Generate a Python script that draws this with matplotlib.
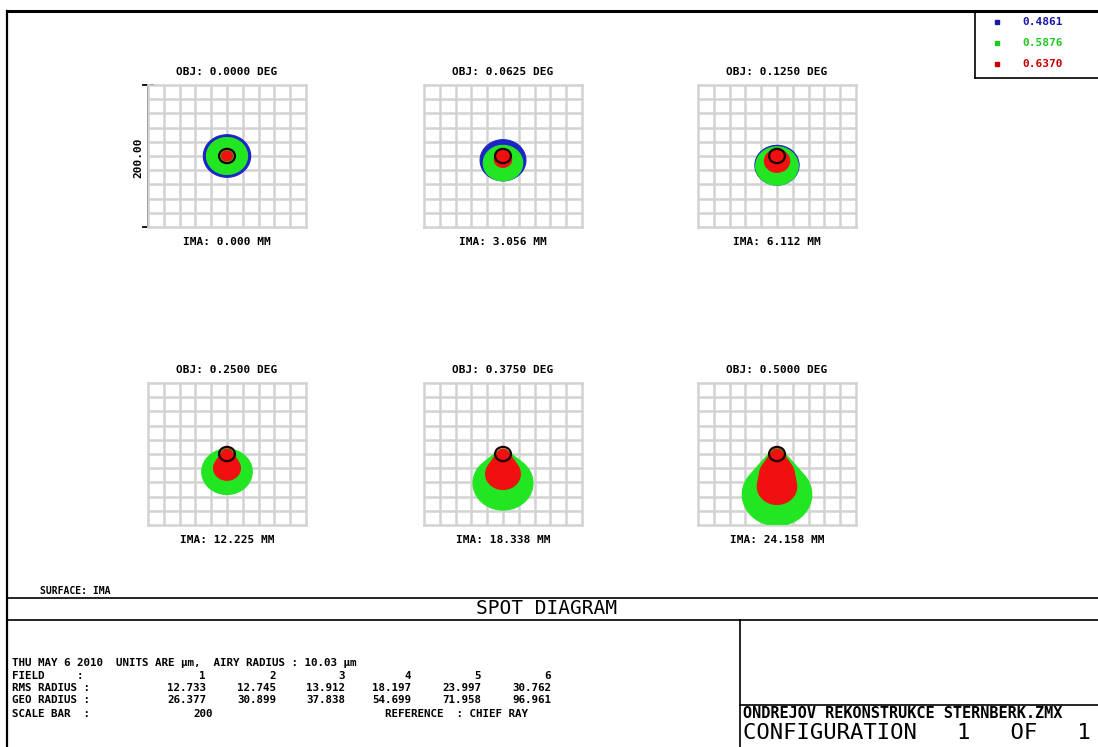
import numpy as np
import matplotlib
matplotlib.use("Agg")
import matplotlib.pyplot as plt
from matplotlib.patches import Polygon, Circle

# field data
obj_deg = ["0.0000", "0.0625", "0.1250", "0.2500", "0.3750", "0.5000"]
ima_mm = ["0.000", "3.056", "6.112", "12.225", "18.338", "24.158"]
field_no = ["1", "2", "3", "4", "5", "6"]
rms_radius = ["12.733", "12.745", "13.912", "18.197", "23.997", "30.762"]
geo_radius = ["26.377", "30.899", "37.838", "54.699", "71.958", "96.961"]

wavelengths = ["0.4861", "0.5876", "0.6370"]
wave_colors = ["#1c24c8", "#22e622", "#f01010"]
legend_colors = ["#1a1aa8", "#22c822", "#c80000"]

airy_radius = 10.03   # um
scale_bar = 200       # um

# spot outlines per wavelength and field: list of (y offset, radius) in um,
# the spot is the hull of these circles (chief ray at 0,0)
spots_blue = [
    [(0, 30)],
    [(-6, 29)],
    [(-13, 28)],
    [(-2, 6), (-22, 27)],
    [(-3, 6), (-36, 32)],
    [(-4, 7), (-52, 38)],
]
spots_green = [
    [(0, 26)],
    [(-10, 25)],
    [(-14, 27)],
    [(0, 8), (-25, 32)],
    [(-1, 8), (-41, 38)],
    [(-1, 9), (-57, 44)],
]
spots_red = [
    [(0, 7)],
    [(0, 8), (-5, 11)],
    [(0, 9), (-7, 16)],
    [(0, 7), (-20, 17)],
    [(0, 7), (-28, 22)],
    [(0, 7), (-28, 22), (-46, 25)],
]
all_spots = [spots_blue, spots_green, spots_red]


def convex_hull(pts):
    pts = sorted(set(map(tuple, np.round(pts, 4))))
    def cross(o, a, b):
        return (a[0]-o[0])*(b[1]-o[1]) - (a[1]-o[1])*(b[0]-o[0])
    lower, upper = [], []
    for p in pts:
        while len(lower) >= 2 and cross(lower[-2], lower[-1], p) <= 0:
            lower.pop()
        lower.append(p)
    for p in reversed(pts):
        while len(upper) >= 2 and cross(upper[-2], upper[-1], p) <= 0:
            upper.pop()
        upper.append(p)
    return np.array(lower[:-1] + upper[:-1])


def spot_outline(circles):
    t = np.linspace(0, 2*np.pi, 120, endpoint=False)
    pts = []
    for dy, r in circles:
        pts.append(np.column_stack([r*np.cos(t), dy + r*np.sin(t)]))
    return convex_hull(np.vstack(pts))


W, H = 1098, 747
fig = plt.figure(figsize=(W/100, H/100), dpi=100)
base = fig.add_axes([0, 0, 1, 1])
base.set_xlim(0, W)
base.set_ylim(H, 0)
base.axis("off")

mono = "DejaVu Sans Mono"

# frame
base.plot([7, W], [11, 11], color="k", lw=2.2)
base.plot([7, 7], [11, H], color="k", lw=1.6)
base.plot([975, 975], [11, 78], color="k", lw=1.2)
base.plot([975, W], [78, 78], color="k", lw=1.2)
base.plot([7, W], [598, 598], color="k", lw=1.2)
base.plot([7, W], [620, 620], color="k", lw=1.2)
base.plot([740, 740], [620, H], color="k", lw=1.2)
base.plot([740, W], [705, 705], color="k", lw=1.2)

# legend of wavelengths
for k, (wl, c) in enumerate(zip(wavelengths, legend_colors)):
    y = 22 + 21*k
    base.plot([997], [y], marker="s", ms=2.5, color=c, mec=c)
    base.text(1022, y, wl, color=c, fontsize=8, family=mono, weight="bold",
              va="center", ha="left")

# spot panels
grid_x = [148, 424, 698]
grid_y = [85, 383]
gw, gh = 158, 142
for i in range(6):
    col, row = i % 3, i // 3
    left, top = grid_x[col], grid_y[row]
    ax = fig.add_axes([left/W, 1 - (top + gh)/H, gw/W, gh/H])
    ax.set_xlim(-scale_bar/2, scale_bar/2)
    ax.set_ylim(-scale_bar/2, scale_bar/2)
    ax.set_xticks([])
    ax.set_yticks([])
    for s in ax.spines.values():
        s.set_color("#d2d2d2")
        s.set_linewidth(1.8)
    for g in np.arange(-80, 100, 20):
        ax.axvline(g, color="#d2d2d2", lw=1.8, zorder=1)
        ax.axhline(g, color="#d2d2d2", lw=1.8, zorder=1)
    for w in range(3):
        poly = spot_outline(all_spots[w][i])
        ax.add_patch(Polygon(poly, closed=True, facecolor=wave_colors[w],
                             edgecolor=wave_colors[w], lw=0.8, zorder=2 + w))
    ax.add_patch(Circle((0, 0), airy_radius, facecolor="none",
                        edgecolor="#1a0000", lw=1.6, zorder=6))

    cx = left + gw/2
    base.text(cx, top - 13, "OBJ: %s DEG" % obj_deg[i], fontsize=8,
              family=mono, weight="bold", ha="center", va="center")
    base.text(cx, top + gh + 15, "IMA: %s MM" % ima_mm[i], fontsize=8,
              family=mono, weight="bold", ha="center", va="center")

# scale bar
sx = grid_x[0]
base.plot([sx, sx], [grid_y[0], grid_y[0] + gh], color="k", lw=1.3)
base.plot([sx - 5, sx + 5], [grid_y[0], grid_y[0]], color="k", lw=1.3)
base.plot([sx - 5, sx + 5], [grid_y[0] + gh, grid_y[0] + gh], color="k", lw=1.3)
base.text(sx - 10, grid_y[0] + gh/2 + 2, "%.2f" % scale_bar, rotation=90,
          fontsize=8, family=mono, weight="bold", ha="center", va="center")

# bottom text block
base.text(40, 591, "SURFACE: IMA", fontsize=7, family=mono, weight="bold",
          va="center")
base.text(547, 609, "SPOT DIAGRAM", fontsize=14, family=mono, ha="center",
          va="center")

fs = 7.8
base.text(12, 663, "THU MAY 6 2010  UNITS ARE \u00b5m,  AIRY RADIUS : %.2f \u00b5m"
          % airy_radius, fontsize=fs, family=mono, weight="bold", va="center")
rows = [("FIELD     :", field_no, 676), ("RMS RADIUS :", rms_radius, 688),
        ("GEO RADIUS :", geo_radius, 700)]
col_right = [206, 276, 345, 411, 481, 551]
for label, vals, y in rows:
    base.text(12, y, label, fontsize=fs, family=mono, weight="bold", va="center")
    for xr, v in zip(col_right, vals):
        base.text(xr, y, v, fontsize=fs, family=mono, weight="bold",
                  va="center", ha="right")
base.text(12, 714, "SCALE BAR  :", fontsize=fs, family=mono, weight="bold",
          va="center")
base.text(193, 714, "%d" % scale_bar, fontsize=fs, family=mono, weight="bold",
          va="center")
base.text(385, 714, "REFERENCE  : CHIEF RAY", fontsize=fs, family=mono,
          weight="bold", va="center")

base.text(743, 713, "ONDREJOV REKONSTRUKCE STERNBERK.ZMX", fontsize=11,
          family=mono, weight="bold", va="center", clip_on=True)
base.text(743, 733, "CONFIGURATION   1   OF   1", fontsize=16, family=mono,
          va="center")

fig.savefig("out.png", dpi=100)
